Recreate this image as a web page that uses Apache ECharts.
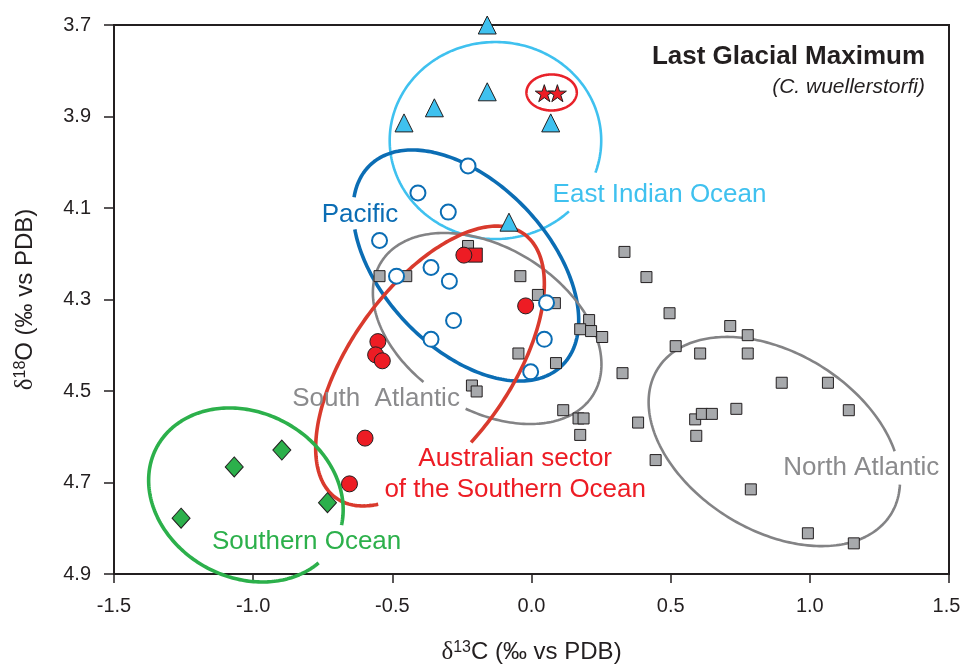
<!DOCTYPE html>
<html>
<head>
<meta charset="utf-8">
<script src="https://cdn.jsdelivr.net/npm/echarts@6/dist/echarts.min.js"></script>
<style>
  html, body { margin: 0; padding: 0; background: #ffffff; }
  #chart { width: 961px; height: 668px; }
</style>
</head>
<body>
<div id="chart"></div>
<script>
// δ13C / δ18O of C. wuellerstorfi, Last Glacial Maximum, grouped by ocean region.

// Axis ticks
const xTicks = [-1.5, -1.0, -0.5, 0.0, 0.5, 1.0, 1.5];
const yTicks = [3.7, 3.9, 4.1, 4.3, 4.5, 4.7, 4.9];

// Samples: [δ13C, δ18O]
const atlantic = [
  [-0.228, 4.183], [-0.546, 4.249], [-0.450, 4.249], [-0.040, 4.249], [0.334, 4.196],
  [0.413, 4.251], [0.023, 4.290], [0.084, 4.308], [0.207, 4.345], [0.175, 4.365],
  [0.214, 4.369], [0.254, 4.382], [-0.047, 4.418], [0.088, 4.439], [0.327, 4.461],
  [-0.214, 4.488], [-0.197, 4.501], [0.114, 4.542], [0.169, 4.560], [0.187, 4.560],
  [0.175, 4.596], [0.383, 4.569], [0.496, 4.330], [0.714, 4.358], [0.777, 4.378],
  [0.518, 4.402], [0.606, 4.418], [0.777, 4.418], [0.899, 4.482], [1.065, 4.482],
  [0.588, 4.562], [0.612, 4.550], [0.648, 4.550], [0.736, 4.539], [1.140, 4.542],
  [0.592, 4.598], [0.446, 4.651], [0.788, 4.715], [0.993, 4.811], [1.158, 4.833]
];
const pacific = [
  [-0.228, 4.008], [-0.408, 4.067], [-0.299, 4.109], [-0.546, 4.171], [-0.485, 4.249],
  [-0.361, 4.230], [-0.295, 4.260], [-0.280, 4.346], [-0.361, 4.387], [0.054, 4.307],
  [0.046, 4.387], [-0.003, 4.458]
];
const australianSectorSquare = [[-0.202, 4.203]];
const australianSector = [
  [-0.243, 4.203], [-0.021, 4.314], [-0.552, 4.392], [-0.560, 4.421], [-0.536, 4.434],
  [-0.598, 4.603], [-0.654, 4.703]
];
const eastIndian = [
  [-0.159, 3.700], [-0.159, 3.846], [-0.349, 3.881], [-0.458, 3.914], [0.069, 3.914],
  [-0.081, 4.131]
];
const eastIndianStars = [[0.046, 3.849], [0.093, 3.849]];
const southernOcean = [[-1.259, 4.778], [-1.068, 4.666], [-0.897, 4.629], [-0.733, 4.744]];

// Region outlines: centre and the ends of two conjugate semi-axes (data units);
// gap = parameter range in degrees left open for the region name.
const regionOutlines = [
  { name: 'eastIndian',    centre: [-0.1295, 3.9525], axisA: [0.2505, 3.9525],  axisB: [-0.1295, 4.1678], gap: [19, 46] },
  { name: 'stars',         centre: [0.0723, 3.8475],  axisA: [0.1627, 3.8475],  axisB: [0.0723, 3.8869],  gap: null },
  { name: 'pacific',       centre: [-0.2358, 4.2257], axisA: [0.1012, 4.4491],  axisB: [-0.4612, 4.3435], gap: [136, 154] },
  { name: 'southAtlantic', centre: [-0.1593, 4.3634], axisA: [0.2162, 4.5133],  axisB: [-0.3254, 4.5087], gap: [77, 100] },
  { name: 'australian',    centre: [-0.3646, 4.4454], axisA: [-0.0325, 4.1546], axisB: [-0.1228, 4.5402], gap: [105, 153] },
  { name: 'southern',      centre: [-1.0261, 4.7273], axisA: [-0.7059, 4.8318], axisB: [-1.1661, 4.8862], gap: [-13, 18] },
  { name: 'northAtlantic', centre: [0.8724, 4.6104],  axisA: [1.2934, 4.7673],  axisB: [0.7090, 4.7767],  gap: [-38, -19] }
];

// Region names and their anchor points (data units)
const regionLabels = [
  { text: 'East Indian Ocean',     at: [0.460, 4.071],   region: 'eastIndian' },
  { text: 'Pacific',               at: [-0.616, 4.115],  region: 'pacific' },
  { text: 'South  Atlantic',       at: [-0.5585, 4.517], region: 'southAtlantic' },
  { text: 'Australian sector',     at: [-0.0586, 4.649], region: 'australianText' },
  { text: 'of the Southern Ocean', at: [-0.0586, 4.716], region: 'australianText' },
  { text: 'North Atlantic',        at: [1.185, 4.667],   region: 'northAtlantic' },
  { text: 'Southern Ocean',        at: [-0.808, 4.829],  region: 'southern' }
];

// ---- styling ----
const FONT = '"Liberation Sans", Arial, Helvetica, sans-serif';
const SERIF = '"Liberation Serif", "Times New Roman", serif';
const INK = '#231f20';
const C = {
  lightBlue: '#3fc1ef',
  blue: '#0b6db4',
  red: '#ed1c24',
  redLine: '#d93a2d',
  green: '#2cb04b',
  grayLine: '#838385',
  grayText: '#8b8b8d',
  grayFill: '#a7a9ac'
};
const outlineStyle = {
  eastIndian:    { color: C.lightBlue, width: 2.6 },
  stars:         { color: '#e8222a',   width: 2.6 },
  pacific:       { color: C.blue,      width: 3.6 },
  southAtlantic: { color: C.grayLine,  width: 2.6 },
  australian:    { color: C.redLine,   width: 3.6 },
  southern:      { color: C.green,     width: 3.6 },
  northAtlantic: { color: C.grayLine,  width: 2.6 }
};
const labelColour = {
  eastIndian: C.lightBlue, pacific: C.blue, southAtlantic: C.grayText,
  australianText: C.red, northAtlantic: C.grayText, southern: C.green
};

const STAR = 'path://M50,2 L61.2,36.3 L97.6,36.3 L68.2,57.5 L79.4,92 L50,70.7 L20.6,92 L31.8,57.5 L2.4,36.3 L38.8,36.3 Z';

function pointSeries(name, data, symbol, size, fill, stroke, strokeWidth, z) {
  return {
    name, type: 'scatter', data, symbol, symbolSize: size, symbolKeepAspect: true,
    z, clip: false, silent: true,
    itemStyle: { color: fill, borderColor: stroke, borderWidth: strokeWidth, opacity: 1 }
  };
}

const outlineSeries = {
  type: 'custom', z: 1, silent: true, clip: false,
  data: regionOutlines.map(o => o.centre),
  encode: { x: 0, y: 1 },
  renderItem(params, api) {
    const o = regionOutlines[params.dataIndex];
    const st = outlineStyle[o.name];
    const c = api.coord(o.centre), a = api.coord(o.axisA), b = api.coord(o.axisB);
    const ux = a[0] - c[0], uy = a[1] - c[1], vx = b[0] - c[0], vy = b[1] - c[1];
    const from = o.gap ? o.gap[1] : 0;
    const to = o.gap ? o.gap[0] + 360 : 360;
    const pts = [];
    const n = 240;
    for (let i = 0; i <= n; i++) {
      const t = (from + (to - from) * i / n) * Math.PI / 180;
      pts.push([c[0] + ux * Math.cos(t) + vx * Math.sin(t), c[1] + uy * Math.cos(t) + vy * Math.sin(t)]);
    }
    return {
      type: 'polyline', shape: { points: pts },
      style: { stroke: st.color, lineWidth: st.width, fill: null, lineCap: 'butt', lineJoin: 'round' }
    };
  }
};

const labelSeries = {
  type: 'custom', z: 2, silent: true, clip: false,
  data: regionLabels.map(l => l.at),
  encode: { x: 0, y: 1 },
  renderItem(params, api) {
    const l = regionLabels[params.dataIndex];
    const p = api.coord(l.at);
    return {
      type: 'text', x: p[0], y: p[1],
      style: {
        text: l.text, font: '26px ' + FONT, fill: labelColour[l.region],
        align: 'center', verticalAlign: 'middle'
      }
    };
  }
};

const axisName = () => ({
  rich: {
    d: { fontFamily: SERIF, fontSize: 25, color: INK },
    s: { fontFamily: FONT, fontSize: 16, color: INK, verticalAlign: 'top' },
    t: { fontFamily: FONT, fontSize: 24, color: INK }
  }
});

const xMax = xTicks[xTicks.length - 1];

const chart = echarts.init(document.getElementById('chart'), null, { renderer: 'canvas' });
chart.setOption({
  backgroundColor: '#ffffff',
  animation: false,
  grid: {
    left: 114, right: 12, top: 25, bottom: 94,
    outerBoundsMode: 'none', containLabel: false,
    show: true, borderColor: INK, borderWidth: 2, backgroundColor: 'transparent'
  },
  xAxis: {
    type: 'value', min: xTicks[0], max: xMax, interval: 0.5,
    name: '{d|δ}{s|13}{t|C (‰ vs PDB)}', nameLocation: 'middle', nameGap: 66,
    nameTextStyle: axisName(),
    axisLine: { show: true, onZero: false, lineStyle: { color: INK, width: 2 } },
    axisTick: { show: true, inside: false, length: 9, lineStyle: { color: INK, width: 1.5 } },
    axisLabel: {
      fontFamily: FONT, fontSize: 20, color: INK, margin: 22,
      // the last label sits against the page edge, nudge it slightly inwards
      formatter: v => (Math.abs(v - xMax) < 1e-9 ? '{edge|' + v.toFixed(1) + '}' : v.toFixed(1)),
      rich: { edge: { fontFamily: FONT, fontSize: 20, color: INK, padding: [0, 5, 0, 0] } }
    },
    splitLine: { show: false }
  },
  yAxis: {
    type: 'value', inverse: true, min: yTicks[0], max: yTicks[yTicks.length - 1], interval: 0.2,
    name: '{d|δ}{s|18}{t|O (‰ vs PDB)}', nameLocation: 'middle', nameGap: 76,
    nameTextStyle: axisName(),
    axisLine: { show: true, onZero: false, lineStyle: { color: INK, width: 2 } },
    axisTick: { show: true, inside: false, length: 10, lineStyle: { color: INK, width: 1.5 } },
    axisLabel: {
      fontFamily: FONT, fontSize: 20, color: INK, margin: 23,
      formatter: v => v.toFixed(1)
    },
    splitLine: { show: false }
  },
  graphic: [
    { type: 'text', right: 36, top: 44, z: 10,
      style: { text: 'Last Glacial Maximum', font: 'bold 26px ' + FONT, fill: INK } },
    { type: 'text', right: 36, top: 77, z: 10,
      style: { text: '(C. wuellerstorfi)', font: 'italic 21px ' + FONT, fill: INK } }
  ],
  series: [
    outlineSeries,
    labelSeries,
    pointSeries('Atlantic', atlantic, 'rect', 11, C.grayFill, INK, 1, 3),
    pointSeries('Pacific', pacific, 'circle', 15, '#ffffff', C.blue, 2, 4),
    pointSeries('Australian sector (square)', australianSectorSquare, 'rect', 14, C.red, INK, 1, 5),
    pointSeries('Australian sector', australianSector, 'circle', 16, C.red, INK, 1, 6),
    pointSeries('East Indian Ocean', eastIndian, 'triangle', 18, C.lightBlue, INK, 1, 7),
    pointSeries('East Indian Ocean (stars)', eastIndianStars, STAR, 18, C.red, INK, 1, 8),
    pointSeries('Southern Ocean', southernOcean, 'diamond', [18, 20], C.green, INK, 1, 9)
  ]
});
</script>
</body>
</html>
